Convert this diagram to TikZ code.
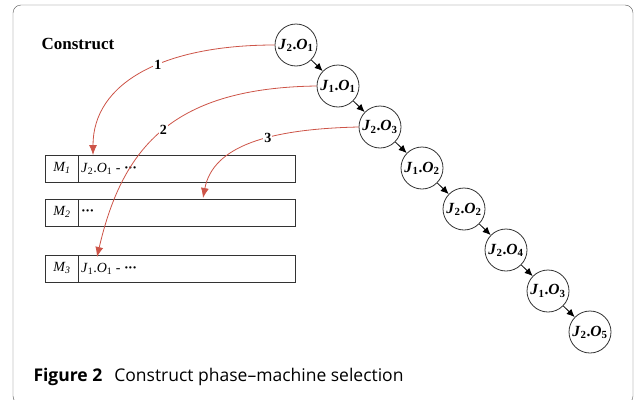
\documentclass[tikz,border=0pt]{standalone}
\usepackage{fontspec}
\setmainfont{Liberation Serif}
\newfontfamily\captionfont{Open Sans}
\usepackage{tikz}
\usetikzlibrary{shapes,positioning,calc}
\usetikzlibrary{arrows.meta}
\definecolor{pickred}{RGB}{205,84,72}
\definecolor{framegray}{RGB}{85,85,85}
\newcommand{\opname}[2]{\textit{J}\textsubscript{#1}.\textit{O}\textsubscript{#2}}
\newcommand{\tdots}{\textbf{\textperiodcentered\kern-.5pt\textperiodcentered\kern-.5pt\textperiodcentered}}
\tikzstyle{op} = [circle, draw=black!80, thick, minimum size=42pt, inner sep=0pt, font=\bfseries\fontsize{15.5}{16}\selectfont]
\tikzstyle{seqarrow} = [thick,-{Latex[length=8pt,width=7pt]}]
\tikzstyle{pick} = [pickred, thick, -{Latex[length=10pt,width=8pt]}]
\tikzstyle{steplabel} = [fill=white, text=black, inner sep=1pt, font=\bfseries\fontsize{14}{14}\selectfont]

\begin{document}
\begin{tikzpicture}[x=1pt,y=1pt,
	machine/.style={rectangle split, rectangle split parts=2, rectangle split horizontal, draw=black!80, thick, anchor=north west, inner xsep=2pt, inner ysep=6pt, text height=10pt, text depth=5pt, font=\fontsize{14}{14}\selectfont}]
	\useasboundingbox (0,0) rectangle (637,-399);
	
	% FRAME
	\draw[framegray, rounded corners=8pt] (13,-5) rectangle (633,-404);
	\node[anchor=west, font=\bfseries\fontsize{17}{17}\selectfont] (title) at (38,-44) {Construct};
	
	% OPERATION SEQUENCE
	\begin{scope}[on grid, node distance=41pt and 42pt]
		\node[op] (j2o1) at (296,-45) {\opname{2}{1}};
		\node[op, below right=of j2o1] (j1o1) {\opname{1}{1}};
		\node[op, below right=of j1o1] (j2o3) {\opname{2}{3}};
		\node[op, below right=of j2o3] (j1o2) {\opname{1}{2}};
		\node[op, below right=of j1o2] (j2o2) {\opname{2}{2}};
		\node[op, below right=of j2o2] (j2o4) {\opname{2}{4}};
		\node[op, below right=of j2o4] (j1o3) {\opname{1}{3}};
		\node[op, below right=of j1o3] (j2o5) {\opname{2}{5}};
	\end{scope}
	\draw[seqarrow] (j2o1) -- (j1o1);
	\draw[seqarrow] (j1o1) -- (j2o3);
	\draw[seqarrow] (j2o3) -- (j1o2);
	\draw[seqarrow] (j1o2) -- (j2o2);
	\draw[seqarrow] (j2o2) -- (j2o4);
	\draw[seqarrow] (j2o4) -- (j1o3);
	\draw[seqarrow] (j1o3) -- (j2o5);
	
	% MACHINES
	\node[machine] (m1) at (45,-155)
	{%
		\nodepart{one} \makebox[29pt]{\textit{M\textsubscript{1}}}
		\nodepart{two} \makebox[212pt][l]{\opname{2}{1} - \tdots}};
	\node[machine] (m2) at (45,-199)
	{%
		\nodepart{one} \makebox[29pt]{\textit{M\textsubscript{2}}}
		\nodepart{two} \makebox[212pt][l]{\tdots}};
	\node[machine] (m3) at (45,-255)
	{%
		\nodepart{one} \makebox[29pt]{\textit{M\textsubscript{3}}}
		\nodepart{two} \makebox[212pt][l]{\opname{1}{1} - \tdots}};
	
	% SELECTION
	\coordinate (slot1) at (93,-155);
	\coordinate (slot2) at (203,-198);
	\coordinate (slot3) at (97,-257);
	\draw[pick] (j2o1.west) .. controls +(-112,0) and +(0,72) .. node[pos=0.42, steplabel] {1} (slot1);
	\draw[pick] (j1o1.west) .. controls +(-142,-2) and +(26,112) .. node[pos=0.5, steplabel] {2} (slot3);
	\draw[pick] (j2o3.west) .. controls +(-90,-2) and +(10,52) .. node[pos=0.4, steplabel] {3} (slot2);
	
	\node[anchor=base west, font=\captionfont\fontsize{17.5}{18}\selectfont] (caption) at (30,-381) {\textbf{Figure 2}\hspace{12pt}Construct phase–machine selection};
\end{tikzpicture}
\end{document}
